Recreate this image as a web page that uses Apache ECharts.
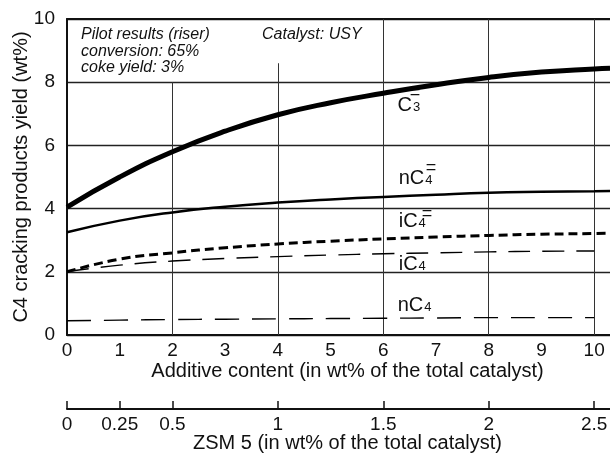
<!DOCTYPE html>
<html><head><meta charset="utf-8">
<script src="https://cdn.jsdelivr.net/npm/echarts@6/dist/echarts.min.js"></script>
<style>html,body{margin:0;padding:0;background:#fff}#c{width:610px;height:453px}</style>
</head><body><div id="c"></div>
<script>
// ---- data ----
const xLong = [0,1,2,3,4,5,6,7,8,9,10,10.3];
const c3ene  = [4.05,5.0,5.8,6.45,6.97,7.35,7.65,7.92,8.15,8.32,8.42,8.44];
const nc4ene = [3.25,3.62,3.88,4.06,4.19,4.29,4.37,4.44,4.5,4.53,4.55,4.56];
const ic4ene = [2.0,2.4,2.6,2.76,2.88,2.97,3.04,3.1,3.15,3.19,3.21,3.22];
const xShort = [0,1,2,3,4,5,6,7,8,9,10];
const ic4 = [2.0,2.21,2.34,2.42,2.48,2.53,2.57,2.6,2.63,2.65,2.66];
const nc4 = [0.45,0.47,0.49,0.5,0.51,0.52,0.53,0.54,0.55,0.55,0.55];
const additiveTicks = [0,1,2,3,4,5,6,7,8,9,10];
const zsmTicks = [0,0.25,0.5,1,1.5,2,2.5];
const yTicks = [0,2,4,6,8,10];
const verticalGrid = [[2,8],[4,8.6],[6,10],[8,10],[10,10]]; // [x, top value]
const xMax = 10.3;
const zsmPerAdditive = 0.25;
const noteLines = ['Pilot results (riser)','conversion: 65%','coke yield: 3%'];
const catalystNote = 'Catalyst: USY';
const yTitle = 'C4 cracking products yield (wt%)';
const xTitle = 'Additive content (in wt% of the total catalyst)';
const zsmTitle = 'ZSM 5 (in wt% of the total catalyst)';

const FONT = '"Liberation Sans", Arial, Helvetica, sans-serif';
const pair = (xs, ys) => xs.map((x,i)=>[x, ys[i]]);

const curveLabels = [
  {main:'C',  sub:'3', bar:true,  x:397.5, base:111.5, barX:415, barY:93},
  {main:'nC', sub:'4', bar:true,  x:398.7, base:184.3, barX:431, barY:168},
  {main:'iC', sub:'4', bar:true,  x:398.7, base:227.7, barX:427, barY:214},
  {main:'iC', sub:'4', bar:false, x:398.7, base:270.7},
  {main:'nC', sub:'4', bar:false, x:397.7, base:311.5}
];

const graphics = [];
noteLines.forEach((t,i)=>{
  graphics.push({type:'text', silent:true, style:{text:t, x:81, y:34.5+i*16.7, fill:'#111',
    font:'italic 16px '+FONT, verticalAlign:'middle', align:'left'}});
});
graphics.push({type:'text', silent:true, style:{text:catalystNote, x:262, y:34.5, fill:'#111',
  font:'italic 16px '+FONT, verticalAlign:'middle', align:'left'}});
curveLabels.forEach(l=>{
  graphics.push({type:'text', silent:true, style:{
    text:'{a|'+l.main+'}{b|'+l.sub+'}', x:l.x, y:l.base+4.2, verticalAlign:'bottom', align:'left',
    rich:{a:{fontSize:20, fontFamily:FONT, fill:'#111', verticalAlign:'bottom'},
          b:{fontSize:13, fontFamily:FONT, fill:'#111', verticalAlign:'bottom', padding:[0,0,1.5,1]}}}});
  if (l.bar) graphics.push({type:'text', silent:true, style:{text:'=', x:l.barX, y:l.barY,
    font:'18px '+FONT, fill:'#111', align:'center', verticalAlign:'middle'}});
});

const chart = echarts.init(document.getElementById('c'));
const tickFont = {fontSize:19, fontFamily:FONT, color:'#111'};
const titleFont = {fontSize:20, fontFamily:FONT, color:'#111'};

chart.setOption({
  animation:false,
  backgroundColor:'#fff',
  grid:[
    {left:67, right:0, top:19, bottom:118, containLabel:false, outerBoundsMode:'none'},
    {left:67, right:0, top:408, height:1, containLabel:false, outerBoundsMode:'none'}
  ],
  xAxis:[
    {type:'value', gridIndex:0, min:0, max:xMax, interval:1, position:'bottom',
     axisLine:{show:true, onZero:false, lineStyle:{color:'#111', width:2}},
     axisTick:{show:false}, splitLine:{show:false},
     axisLabel:{customValues:additiveTicks, margin:6, ...tickFont},
     name:xTitle, nameLocation:'middle', nameGap:26, nameMoveOverlap:false,
     nameTextStyle:{...titleFont, padding:[0,0,0,18]}},
    {type:'value', gridIndex:0, min:0, max:xMax, position:'top',
     axisLine:{show:true, onZero:false, lineStyle:{color:'#111', width:2}},
     axisTick:{show:false}, axisLabel:{show:false}, splitLine:{show:false}},
    {type:'value', gridIndex:1, min:0, max:xMax*zsmPerAdditive, position:'bottom',
     axisLine:{show:true, onZero:false, lineStyle:{color:'#111', width:2}},
     axisTick:{show:true, inside:true, length:8, customValues:zsmTicks, lineStyle:{color:'#111', width:1.5}},
     axisLabel:{customValues:zsmTicks, margin:6, ...tickFont},
     splitLine:{show:false},
     name:zsmTitle, nameLocation:'middle', nameGap:24.5, nameMoveOverlap:false,
     nameTextStyle:{...titleFont, padding:[0,0,0,18]}}
  ],
  yAxis:[
    {type:'value', gridIndex:0, min:0, max:10, interval:2,
     axisLine:{show:true, onZero:false, lineStyle:{color:'#111', width:2}},
     axisTick:{show:false},
     axisLabel:{customValues:yTicks, margin:12, ...tickFont},
     splitLine:{show:true, lineStyle:{color:'#222', width:1.3}},
     name:yTitle, nameLocation:'middle', nameGap:36, nameMoveOverlap:false, nameTextStyle:titleFont},
    {type:'value', gridIndex:1, min:0, max:1, show:false}
  ],
  series:[
    {type:'line', name:'grid', xAxisIndex:0, yAxisIndex:0, data:[], silent:true, z:1,
     markLine:{silent:true, symbol:'none', label:{show:false},
       lineStyle:{color:'#333', width:1, type:'solid'},
       data: verticalGrid.map(v=>[{coord:[v[0],0]},{coord:[v[0],v[1]]}])}},
    {type:'line', name:'C3=', data:pair(xLong,c3ene), smooth:true, symbol:'none',
     lineStyle:{color:'#000', width:5}, z:5},
    {type:'line', name:'nC4=', data:pair(xLong,nc4ene), smooth:true, symbol:'none',
     lineStyle:{color:'#000', width:2.5}, z:5},
    {type:'line', name:'iC4=', data:pair(xLong,ic4ene), smooth:true, symbol:'none',
     lineStyle:{color:'#000', width:3, type:[9,5]}, z:5},
    {type:'line', name:'iC4', data:pair(xShort,ic4), smooth:true, symbol:'none',
     lineStyle:{color:'#000', width:1.4, type:[22,12]}, z:5},
    {type:'line', name:'nC4', data:pair(xShort,nc4), smooth:true, symbol:'none',
     lineStyle:{color:'#000', width:1.4, type:[24,13]}, z:5}
  ],
  graphic: graphics
});
</script></body></html>
